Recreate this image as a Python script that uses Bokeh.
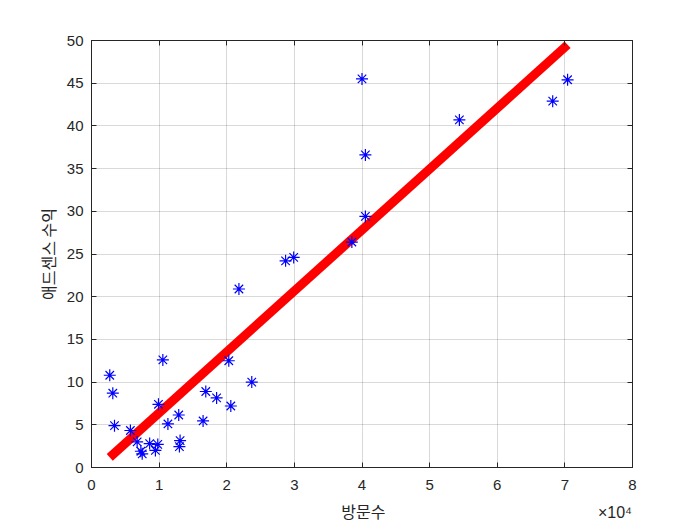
from bokeh.plotting import figure
from bokeh.models import LinearAxis, FixedTicker, Range1d
from bokeh.embed import file_html
from bokeh.resources import INLINE

# data (visits, adsense revenue)
visits = [2700, 10550, 20300, 23700, 3150, 9900, 16900, 18500, 20600, 12900,
          11300, 16500, 3400, 5750, 6750, 8600, 9800, 9450, 7300, 7500,
          13100, 13000, 28700, 29900, 38500, 40500, 40500, 40000, 54400,
          68200, 70400, 21800]
revenue = [10.8, 12.6, 12.5, 10.0, 8.7, 7.4, 8.9, 8.15, 7.2, 6.15,
           5.1, 5.45, 4.9, 4.33, 3.0, 2.8, 2.7, 2.0, 1.9, 1.6,
           3.15, 2.45, 24.2, 24.6, 26.4, 29.4, 36.6, 45.5, 40.7,
           42.9, 45.4, 20.9]
fit_intercept = -0.73
fit_slope = 7.135e-4

x_ticks = [0, 10000, 20000, 30000, 40000, 50000, 60000, 70000, 80000]
x_tick_labels = ["0", "1", "2", "3", "4", "5", "6", "7", "8"]
y_ticks = [0, 5, 10, 15, 20, 25, 30, 35, 40, 45, 50]
x_title = "방문수"
y_title = "애드센스 수익"
x_exponent = "×10⁴"

fit_x = [min(visits), max(visits)]
fit_y = [fit_intercept + fit_slope * v for v in fit_x]

TXT = "#262626"
NUMFONT = "Liberation Sans"
KFONT = "Noto Sans CJK KR"

p = figure(width=690, height=523, output_backend="svg", toolbar_location=None,
           x_range=Range1d(0, 80000), y_range=Range1d(0, 50),
           min_border_left=91, min_border_top=40, min_border_right=58,
           min_border_bottom=56, background_fill_color="white",
           border_fill_color="white")
p.outline_line_color = TXT
p.outline_line_width = 1

p.line(fit_x, fit_y, line_color="red", line_width=9)
p.scatter(visits, revenue, marker="asterisk", size=12, line_color="blue",
          line_width=1.2)

xax = p.xaxis[0]
yax = p.yaxis[0]
xax.ticker = FixedTicker(ticks=x_ticks)
xax.major_label_overrides = {t: l for t, l in zip(x_ticks, x_tick_labels)}
yax.ticker = FixedTicker(ticks=y_ticks)

for ax in (xax, yax):
    ax.axis_line_color = TXT
    ax.major_tick_line_color = TXT
    ax.major_tick_in = 5
    ax.major_tick_out = 0
    ax.minor_tick_line_color = None
    ax.major_label_text_font = NUMFONT
    ax.major_label_text_font_size = "15px"
    ax.major_label_text_color = TXT
    ax.axis_label_text_font = KFONT
    ax.axis_label_text_font_size = "16px"
    ax.axis_label_text_font_style = "normal"
    ax.axis_label_text_color = TXT

yax.axis_label = y_title
xax.major_label_standoff = 12
yax.major_label_standoff = 8
yax.axis_label_standoff = 4

# second row under the x axis: axis title and the x10^4 exponent
title_pos = 40200
exp_pos = 77400
xrow = LinearAxis(ticker=FixedTicker(ticks=[title_pos, exp_pos]))
xrow.major_label_overrides = {title_pos: x_title, exp_pos: x_exponent}
xrow.axis_line_color = None
xrow.major_tick_line_color = None
xrow.minor_tick_line_color = None
xrow.major_tick_in = 0
xrow.major_tick_out = 0
xrow.major_label_standoff = 11
xrow.major_label_text_font = "'Liberation Sans', 'Noto Sans CJK KR'"
xrow.major_label_text_font_size = "16px"
xrow.major_label_text_color = TXT
p.add_layout(xrow, "below")

top = LinearAxis(ticker=FixedTicker(ticks=x_ticks))
top.major_label_overrides = {t: "" for t in x_ticks}
right = LinearAxis(ticker=FixedTicker(ticks=y_ticks))
right.major_label_overrides = {t: "" for t in y_ticks}
for ax in (top, right):
    ax.axis_line_color = TXT
    ax.major_tick_line_color = TXT
    ax.major_tick_in = 5
    ax.major_tick_out = 0
    ax.minor_tick_line_color = None
    ax.major_label_text_font_size = "1px"
    ax.major_label_standoff = 0
p.add_layout(top, "above")
p.add_layout(right, "right")

p.grid.grid_line_color = "black"
p.grid.grid_line_alpha = 0.15
p.xgrid.ticker = FixedTicker(ticks=x_ticks)
p.ygrid.ticker = FixedTicker(ticks=y_ticks)

open("out.html", "w").write(file_html(p, INLINE))
